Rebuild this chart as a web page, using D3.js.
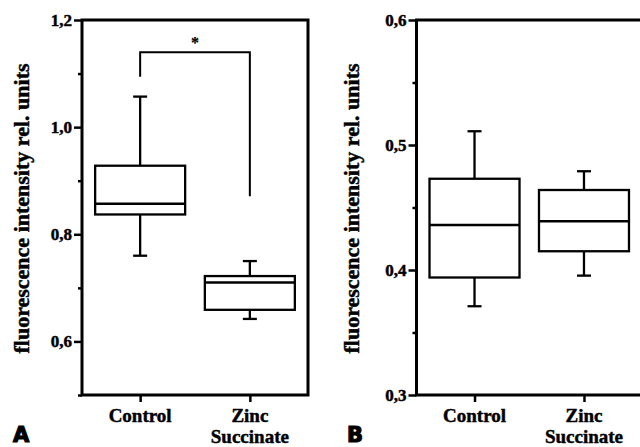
<!DOCTYPE html>
<meta charset="utf-8">
<html>
<head>
  <script src="https://d3js.org/d3.v7.min.js"></script>
  <style>
    body { margin: 0; background: #fff; }
    svg text { font-family: "Liberation Serif", "Times New Roman", serif; font-weight: bold; fill: #000; stroke: #000; stroke-width: 0.45px; }
    svg text.panel-letter { font-family: "DejaVu Sans", sans-serif; font-size: 21px; stroke-width: 1.2px; }
  </style>
</head>
<body>
  <svg width="640" height="447"></svg>
  <script>
    // data
    const categories = ["Control", "Zinc Succinate"];

    const aLow    = [0.760, 0.642];
    const aQ1     = [0.837, 0.659];
    const aMedian = [0.857, 0.710];
    const aQ3     = [0.928, 0.722];
    const aHigh   = [1.057, 0.750];
    const aMajorTicks = [0.6, 0.8, 1.0, 1.2];
    const aMinorTicks = [0.5, 0.7, 0.9, 1.1];
    const aBracket = [1.094, 1.14, 0.871]; // left leg end, bar level, right leg end

    const bLow    = [0.371, 0.3955];
    const bQ1     = [0.394, 0.415];
    const bMedian = [0.436, 0.439];
    const bQ3     = [0.473, 0.464];
    const bHigh   = [0.511, 0.479];
    const bMajorTicks = [0.3, 0.4, 0.5, 0.6];
    const bMinorTicks = [0.35, 0.45, 0.55];

    const svg = d3.select("svg");
    const fmt = d3.formatLocale({decimal: ",", thousands: ".", grouping: [3], currency: ["", ""]}).format(".1f");

    function panel(opts) {
      const {left, right, top, bottom, domain, low, q1, med, q3, high, major, minor, letter, letterX, labelX} = opts;
      const g = svg.append("g");
      const y = d3.scaleLinear().domain(domain).range([bottom, top]);
      const x = d3.scalePoint().domain(categories).range([left, right]).padding(0.53);

      // minor ticks
      g.append("g")
        .attr("transform", `translate(${left},0)`)
        .call(d3.axisLeft(y).tickValues(minor).tickSize(4).tickFormat(""))
        .call(a => a.select(".domain").remove())
        .call(a => a.selectAll("line").attr("stroke-width", 2.5));

      // major ticks
      g.append("g")
        .attr("transform", `translate(${left},0)`)
        .call(d3.axisLeft(y).tickValues(major).tickSize(8).tickPadding(2).tickFormat(fmt))
        .call(a => a.select(".domain").remove())
        .call(a => a.selectAll("line").attr("stroke-width", 2.5))
        .call(a => a.selectAll("text").style("font-size", "17px"));

      // x ticks
      g.append("g")
        .attr("transform", `translate(0,${bottom})`)
        .call(d3.axisBottom(x).tickSize(7).tickFormat(""))
        .call(a => a.select(".domain").remove())
        .call(a => a.selectAll("line").attr("stroke-width", 2.5));

      // category labels
      categories.forEach(c => {
        c.split(" ").forEach((w, i) => {
          g.append("text")
            .attr("x", x(c))
            .attr("y", bottom + 27 + i * 21)
            .attr("text-anchor", "middle")
            .style("font-size", "19px")
            .text(w);
        });
      });

      // frame
      g.append("rect")
        .attr("x", left).attr("y", top)
        .attr("width", right - left).attr("height", bottom - top)
        .attr("fill", "none").attr("stroke", "#000").attr("stroke-width", 3);

      // boxes
      const bw = 90, cap = 14;
      categories.forEach((c, i) => {
        const cx = x(c);
        const box = g.append("g").attr("stroke", "#000").attr("stroke-width", 2.3).attr("fill", "none");
        box.append("line").attr("x1", cx).attr("x2", cx).attr("y1", y(high[i])).attr("y2", y(q3[i]));
        box.append("line").attr("x1", cx).attr("x2", cx).attr("y1", y(q1[i])).attr("y2", y(low[i]));
        box.append("line").attr("x1", cx - cap / 2).attr("x2", cx + cap / 2).attr("y1", y(high[i])).attr("y2", y(high[i]));
        box.append("line").attr("x1", cx - cap / 2).attr("x2", cx + cap / 2).attr("y1", y(low[i])).attr("y2", y(low[i]));
        box.append("rect").attr("x", cx - bw / 2).attr("width", bw)
          .attr("y", y(q3[i])).attr("height", y(q1[i]) - y(q3[i]))
          .attr("fill", "#fff");
        box.append("line").attr("x1", cx - bw / 2).attr("x2", cx + bw / 2).attr("y1", y(med[i])).attr("y2", y(med[i]));
      });

      // y label
      g.append("text")
        .attr("transform", `translate(${labelX},${(top + bottom) / 2 + 1}) rotate(-90)`)
        .attr("text-anchor", "middle")
        .style("font-size", "22px")
        .text("fluorescence intensity rel. units");

      g.append("text")
        .attr("class", "panel-letter")
        .attr("x", letterX).attr("y", 442)
        .text(letter);

      return {x, y, g};
    }

    const A = panel({left: 82, right: 308, top: 20, bottom: 395, domain: [0.5, 1.2],
      low: aLow, q1: aQ1, med: aMedian, q3: aQ3, high: aHigh,
      major: aMajorTicks, minor: aMinorTicks, letter: "A", letterX: 13, labelX: 29});

    const B = panel({left: 416.5, right: 642, top: 20, bottom: 395, domain: [0.3, 0.6],
      low: bLow, q1: bQ1, med: bMedian, q3: bQ3, high: bHigh,
      major: bMajorTicks, minor: bMinorTicks, letter: "B", letterX: 347, labelX: 359});

    // significance bracket in panel A
    const x0 = A.x(categories[0]), x1 = A.x(categories[1]);
    A.g.append("path")
      .attr("d", d3.line()([[x0, A.y(aBracket[0])], [x0, A.y(aBracket[1])], [x1, A.y(aBracket[1])], [x1, A.y(aBracket[2])]]))
      .attr("fill", "none").attr("stroke", "#000").attr("stroke-width", 2);
    A.g.append("text")
      .attr("x", (x0 + x1) / 2).attr("y", A.y(aBracket[1]) - 4)
      .attr("text-anchor", "middle")
      .style("font-size", "16px")
      .style("stroke-width", "0.2px")
      .text("*");
  </script>
</body>
</html>
